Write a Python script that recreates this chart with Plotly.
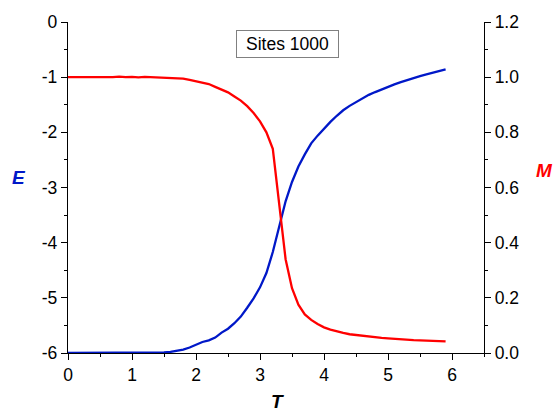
import plotly.graph_objects as go

T = [round(0.1 * i, 1) for i in range(60)]

E = [-6.00, -6.00, -6.00, -5.99, -6.00, -6.00, -6.00, -5.99, -6.00, -6.00,
     -5.99, -6.00, -5.99, -6.00, -6.00, -5.99, -5.98, -5.96, -5.94, -5.90,
     -5.85, -5.80, -5.77, -5.72, -5.63, -5.56, -5.46, -5.34, -5.18, -5.01,
     -4.81, -4.55, -4.17, -3.70, -3.25, -2.90, -2.62, -2.40, -2.20, -2.06,
     -1.93, -1.81, -1.70, -1.60, -1.52, -1.45, -1.38, -1.32, -1.27, -1.22,
     -1.17, -1.13, -1.09, -1.05, -1.01, -0.98, -0.95, -0.92, -0.89, -0.86]

M = [1.000, 1.000, 0.999, 1.001, 1.000, 0.999, 1.001, 1.000, 1.002, 1.000,
     1.001, 0.999, 1.001, 1.000, 1.001, 0.999, 0.999, 0.997, 0.995, 0.990,
     0.985, 0.980, 0.975, 0.965, 0.955, 0.945, 0.930, 0.915, 0.895, 0.870,
     0.840, 0.800, 0.740, 0.535, 0.340, 0.235, 0.175, 0.140, 0.120, 0.105,
     0.093, 0.085, 0.078, 0.073, 0.068, 0.065, 0.062, 0.059, 0.057, 0.055,
     0.053, 0.051, 0.050, 0.048, 0.047, 0.046, 0.045, 0.044, 0.043, 0.042]

x_ticks = [0, 1, 2, 3, 4, 5, 6]
e_ticks = [0, -1, -2, -3, -4, -5, -6]
m_ticks = [0.0, 0.2, 0.4, 0.6, 0.8, 1.0, 1.2]

BLUE = "#0018C8"
RED = "#FF0000"
FONT = "Liberation Sans, Arial, sans-serif"

fig = go.Figure()
fig.add_trace(go.Scatter(x=T, y=E, mode="lines", line=dict(color=BLUE, width=2.3),
                         yaxis="y", showlegend=False, hoverinfo="skip"))
fig.add_trace(go.Scatter(x=T, y=M, mode="lines", line=dict(color=RED, width=2.3),
                         yaxis="y2", showlegend=False, hoverinfo="skip"))

axis_common = dict(showline=True, linecolor="black", linewidth=1.3, ticks="outside",
                   ticklen=6, tickwidth=1.3, tickcolor="black", showgrid=False,
                   zeroline=False, tickfont=dict(family=FONT, size=17.5, color="black"))
minor_common = dict(ticklen=3, tickcolor="black", ticks="outside", tickwidth=1.3)

fig.update_layout(
    width=558, height=413, autosize=False,
    margin=dict(l=68, r=74, t=18, b=60),
    paper_bgcolor="white", plot_bgcolor="white",
    font=dict(family=FONT),
    xaxis=dict(range=[0, 6.5], tickvals=x_ticks, ticktext=[str(v) for v in x_ticks],
               minor=dict(dtick=0.5, **minor_common), **axis_common),
    yaxis=dict(range=[-6, 0], tickvals=e_ticks, ticktext=[str(v) for v in e_ticks],
               minor=dict(dtick=0.5, **minor_common), **axis_common),
    yaxis2=dict(range=[0, 1.2], tickvals=m_ticks, ticktext=[f"{v:.1f}" for v in m_ticks],
                overlaying="y", side="right", anchor="x",
                minor=dict(dtick=0.1, **minor_common), **axis_common),
    annotations=[
        dict(text="Sites 1000", xref="paper", yref="paper", x=(287.5 - 68) / 416,
             y=1 - (40.5 - 18) / 335, xanchor="center", yanchor="middle",
             showarrow=False, width=95, height=20,
             font=dict(family=FONT, size=17.5, color="black"),
             bordercolor="#808080", borderwidth=1, borderpad=3, bgcolor="white"),
        dict(text="<b><i>E</i></b>", xref="paper", yref="paper", x=(19 - 68) / 416,
             y=1 - (175 - 18) / 335, xanchor="center", yanchor="middle", showarrow=False,
             font=dict(family=FONT, size=19, color=BLUE)),
        dict(text="<b><i>M</i></b>", xref="paper", yref="paper", x=(544 - 68) / 416,
             y=1 - (168 - 18) / 335, xanchor="center", yanchor="middle", showarrow=False,
             font=dict(family=FONT, size=19, color=RED)),
        dict(text="<b><i>T</i></b>", xref="paper", yref="paper", x=(277 - 68) / 416,
             y=1 - (402 - 18) / 335, xanchor="center", yanchor="middle", showarrow=False,
             font=dict(family=FONT, size=19, color="black")),
    ],
)

fig.write_html("out.html", config={"displayModeBar": False},
               post_script="document.body.style.margin='0';document.body.style.overflow='hidden';")
